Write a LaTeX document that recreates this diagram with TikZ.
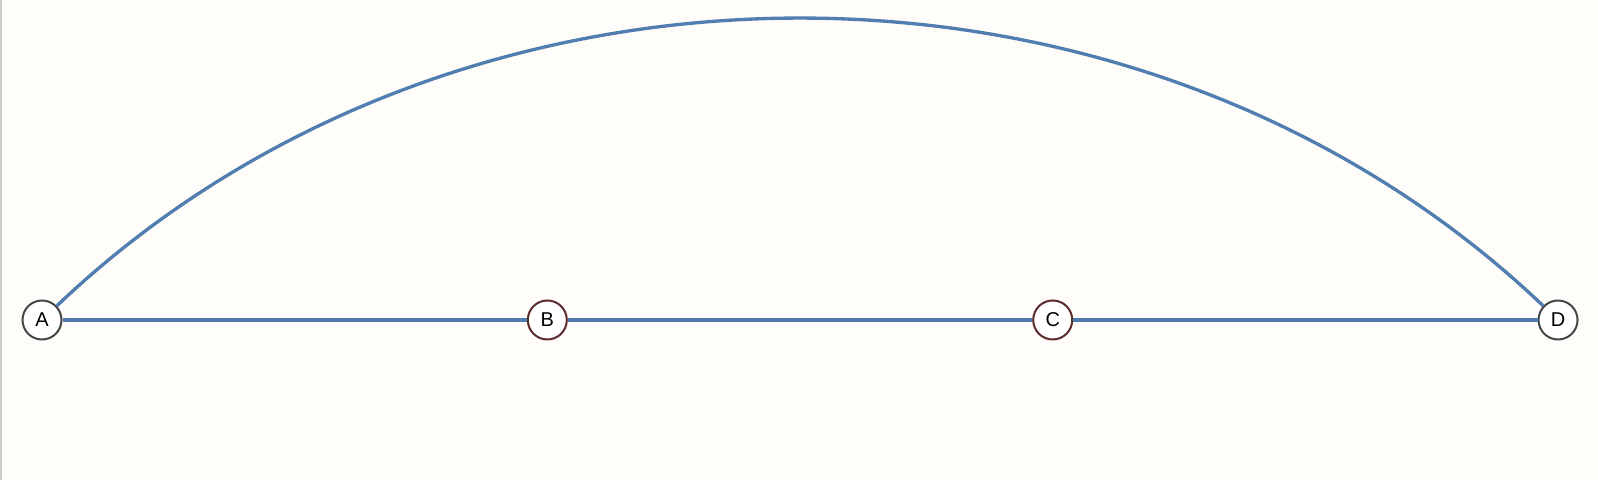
\documentclass[tikz,border=0pt]{standalone}
\usepackage{fontspec}
\setmainfont{Liberation Sans}
\usepackage{tikz}
\definecolor{linkblue}{RGB}{80,126,176}
\definecolor{paper}{RGB}{254,253,249}
\definecolor{rimgrey}{RGB}{70,70,70}
\definecolor{rimbrown}{RGB}{92,44,44}
% 1 unit = 1 px of the reference
\tikzset{x=0.3pt, y=0.3pt,
  vertex/.style={circle, draw=rimgrey, fill=white, line width=0.6pt, minimum size=11.7pt, inner sep=0pt, font=\fontsize{6}{6}\selectfont},
  inner vertex/.style={vertex, draw=rimbrown},
  link/.style={draw=linkblue, line width=1pt}}

\begin{document}
\begin{tikzpicture}
\fill[paper] (0,0) rectangle (1598,480);
\useasboundingbox (0,0) rectangle (1598,480);
\fill[black!20] (0,0) rectangle (2,480);

\node[vertex] (A) at (42,160) {A};
\node[inner vertex] (B) at (547.3,160) {B};
\node[inner vertex] (C) at (1052.7,160) {C};
\node[vertex] (D) at (1558,160) {D};

\path[link] (A) edge (B);
\path[link] (B) edge (C);
\path[link] (C) edge (D);
\path[link,bend left=43.6,looseness=0.96] (A) edge (D);
\end{tikzpicture}
\end{document}
